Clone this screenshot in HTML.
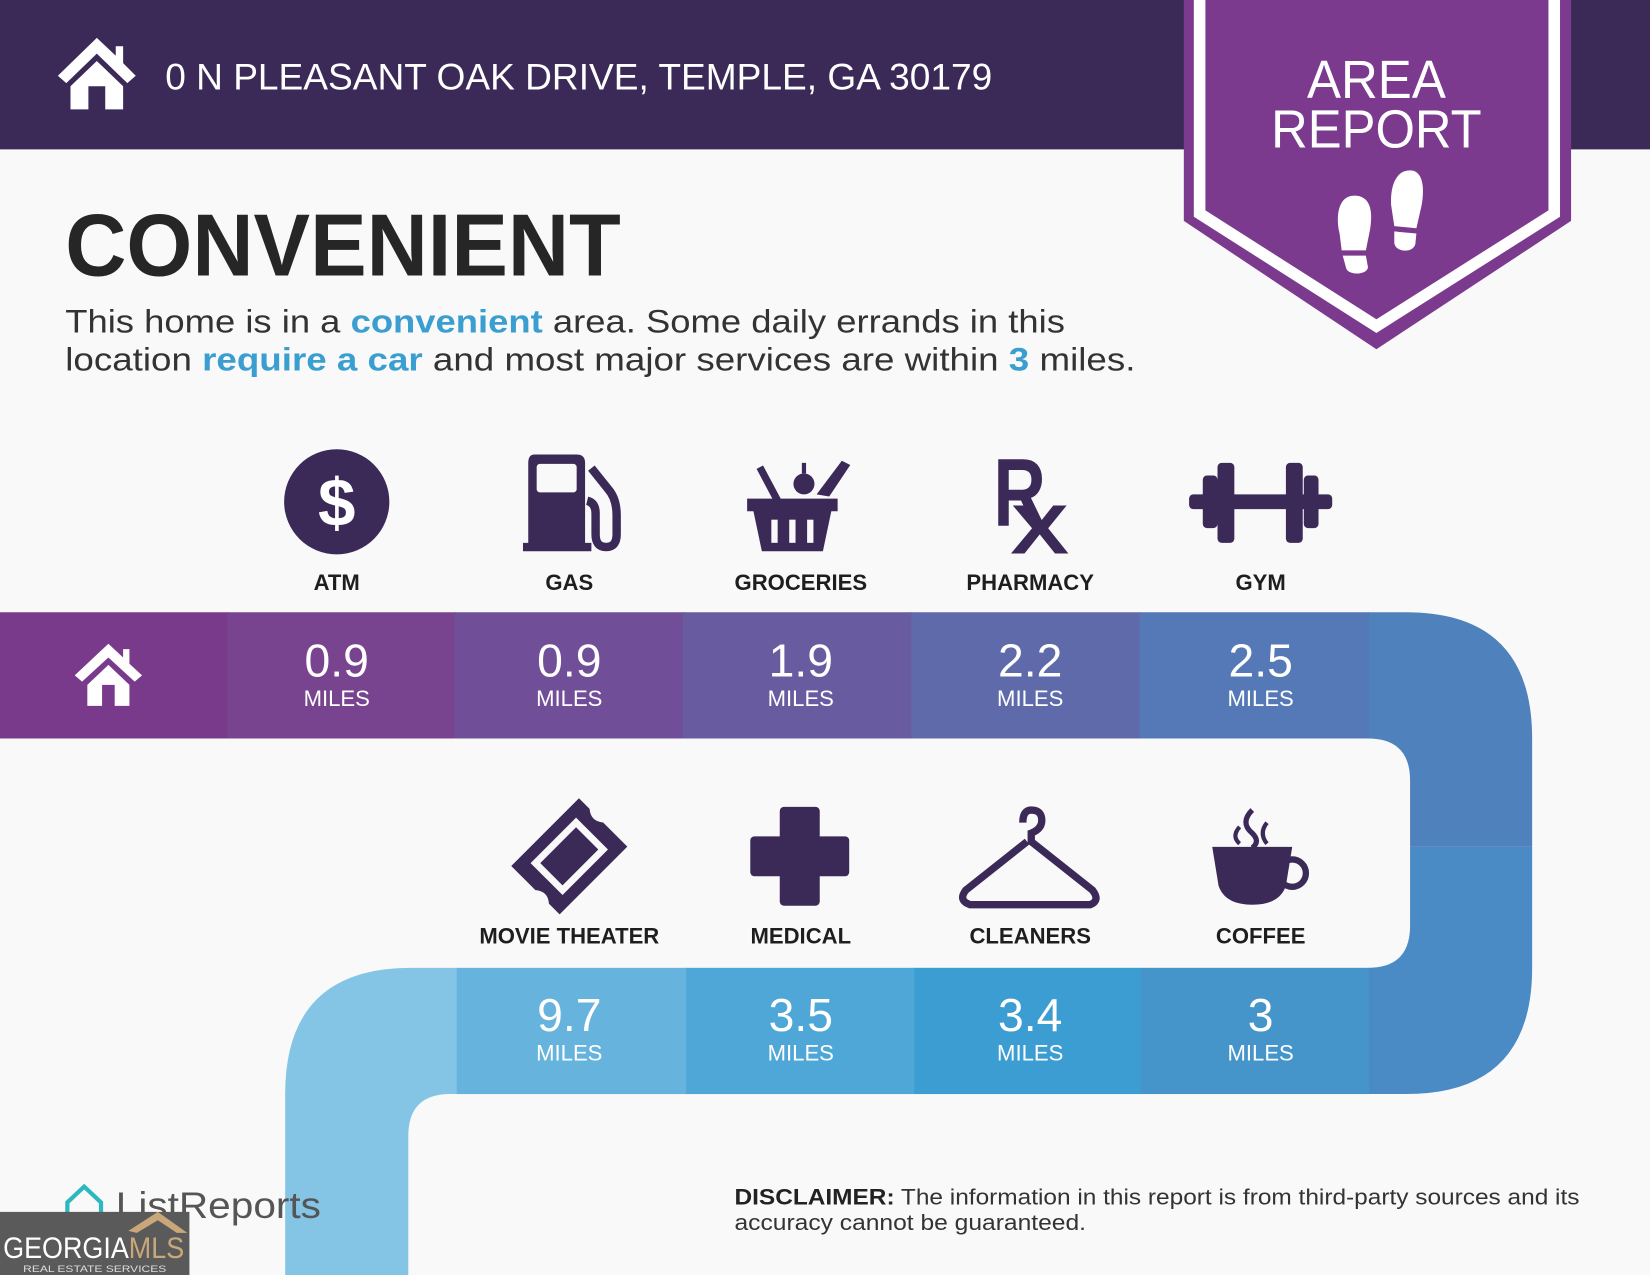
<!DOCTYPE html>
<html><head><meta charset="utf-8"><style>
html,body{margin:0;padding:0;background:#f9f9f9;}
svg{display:block;font-family:"Liberation Sans",sans-serif;}
</style></head><body>
<svg width="1650" height="1275" viewBox="0 0 1568 1212" preserveAspectRatio="none" xmlns="http://www.w3.org/2000/svg">
<rect width="1568" height="1212" fill="#f9f9f9"/>
<!-- header -->
<rect x="0" y="0" width="1568" height="142" fill="#3b2a58"/>
<g fill="#fff">
  <polygon points="92,36 55,72 63,79 92,51 121,79 129,72 117,60 117,44 110,44 110,53"/>
  <polygon points="92,58 67,82 67,104 84,104 84,82 100,82 100,104 117,104 117,82"/>
</g>
<text x="157" y="85" font-size="35" fill="#fff" textLength="786" lengthAdjust="spacingAndGlyphs">0 N PLEASANT OAK DRIVE, TEMPLE, GA 30179</text>
<!-- banner -->
<polygon points="1125,0 1493,0 1493,210 1308,332 1125,210" fill="#7b3a8e"/>
<polyline points="1140,0 1140,203 1308,310 1477,203 1477,0" fill="none" stroke="#fff" stroke-width="11"/>
<text x="1308" y="93" font-size="51" fill="#fff" text-anchor="middle" textLength="132" lengthAdjust="spacingAndGlyphs">AREA</text>
<text x="1308" y="140" font-size="51" fill="#fff" text-anchor="middle" textLength="200" lengthAdjust="spacingAndGlyphs">REPORT</text>
<g fill="#fff">
  <path d="M1287,186 C1272,186 1269,205 1273,222 L1275,238 L1298,238 L1302,218 C1305,200 1302,186 1287,186Z"/>
  <path d="M1276,243 L1298,243 L1300,254 C1299,262 1280,262 1279,254Z"/>
  <path d="M1340,162 C1325,162 1321,180 1322,195 L1325,215 L1346,217 L1351,195 C1354,178 1352,162 1340,162Z"/>
  <path d="M1325,220 L1346,222 L1345,232 C1343,241 1326,240 1325,231Z"/>
</g>
<!-- title -->
<text x="62" y="262" font-size="84" font-weight="bold" fill="#262626" textLength="528" lengthAdjust="spacingAndGlyphs">CONVENIENT</text>
<text x="62" y="316" font-size="31" fill="#333" textLength="950" lengthAdjust="spacingAndGlyphs">This home is in a <tspan fill="#3a9fd0" font-weight="bold">convenient</tspan> area. Some daily errands in this</text>
<text x="62" y="352" font-size="31" fill="#333" textLength="1017" lengthAdjust="spacingAndGlyphs">location <tspan fill="#3a9fd0" font-weight="bold">require a car</tspan> and most major services are within <tspan fill="#3a9fd0" font-weight="bold">3</tspan> miles.</text>

<!-- icons row 1 -->
<g fill="#3b2a58">
  <circle cx="320" cy="477" r="50"/>
  <text x="320" y="500" font-size="64" font-weight="bold" fill="#fff" text-anchor="middle">$</text>
  <!-- gas -->
  <path d="M508,432 L548,432 Q556,432 556,440 L556,516 L562,516 L562,524 L497,524 L497,516 L502,516 L502,440 Q502,432 508,432Z"/>
  <rect x="510" y="441" width="38" height="27" rx="3" fill="#f9f9f9"/>
  <path d="M562,445 L578,465 Q586,474 586,490 L586,508 Q586,520 576,520 Q566,520 566,508 L566,488 Q566,478 558,476" fill="none" stroke="#3b2a58" stroke-width="8"/>
  <!-- groceries -->
  <path d="M710,474 L796,474 L796,486 L790,486 L782,524 L724,524 L716,486 L710,486Z"/>
  <g fill="#f9f9f9"><rect x="733" y="494" width="6" height="22"/><rect x="750" y="494" width="6" height="22"/><rect x="767" y="494" width="6" height="22"/></g>
  <rect x="728" y="442" width="7" height="40" transform="rotate(-28 731 462)"/>
  <circle cx="764" cy="460" r="10"/><rect x="762" y="440" width="4" height="10"/>
  <path d="M776,470 L800,438 L808,442 L788,472Z"/>
  <!-- pharmacy -->
  <text x="944" y="500" font-size="92" font-weight="bold" textLength="50" lengthAdjust="spacingAndGlyphs">R</text>
  <text x="960" y="526" font-size="66" font-weight="bold" textLength="56" lengthAdjust="spacingAndGlyphs">X</text>
  <!-- gym -->
  <rect x="1130" y="470" width="136" height="14" rx="4"/>
  <rect x="1143" y="452" width="14" height="50" rx="4"/>
  <rect x="1157" y="440" width="16" height="76" rx="4"/>
  <rect x="1239" y="452" width="14" height="50" rx="4"/>
  <rect x="1222" y="440" width="16" height="76" rx="4"/>
</g>
<g font-size="21" font-weight="bold" fill="#1e1e1e" text-anchor="middle">
  <text x="320" y="561">ATM</text><text x="541" y="561">GAS</text><text x="761" y="561">GROCERIES</text><text x="979" y="561">PHARMACY</text><text x="1198" y="561">GYM</text>
</g>

<!-- path: right curve -->
<path d="M1300,582 L1336,582 Q1456,582 1456,702 L1456,805 L1340,805 L1340,742 Q1340,702 1300,702Z" fill="#4f82bc"/>
<path d="M1340,805 L1456,805 L1456,920 Q1456,1040 1336,1040 L1300,1040 L1300,920 L1300,920 Q1340,920 1340,880Z" fill="#4a8bc6"/>
<!-- row 1 segments -->
<rect x="0" y="582" width="217" height="120" fill="#7a3a8c"/>
<rect x="216" y="582" width="217" height="120" fill="#784490"/>
<rect x="432" y="582" width="218" height="120" fill="#714e98"/>
<rect x="649" y="582" width="218" height="120" fill="#685ba0"/>
<rect x="866" y="582" width="218" height="120" fill="#5f6aaa"/>
<rect x="1083" y="582" width="218" height="120" fill="#5579b6"/>
<!-- left curve -->
<path d="M435,920 L391,920 Q271,920 271,1040 L271,1212 L388,1212 L388,1080 Q388,1040 428,1040 L435,1040Z" fill="#84c5e6"/>
<rect x="434" y="920" width="219" height="120" fill="#66b4de"/>
<rect x="652" y="920" width="218" height="120" fill="#4fa7d7"/>
<rect x="869" y="920" width="216" height="120" fill="#3b9dd2"/>
<rect x="1084" y="920" width="217" height="120" fill="#4595ca"/>
<!-- home in row -->
<g fill="#fff">
  <polygon points="103,612 71,642 78,648 103,625 128,648 135,642 123,631 123,617 117,617 117,625"/>
  <polygon points="103,632 83,651 83,671 97,671 97,651 109,651 109,671 123,671 123,651"/>
</g>
<g fill="#fff" text-anchor="middle" stroke="none">
  <g font-size="44"><text x="320" y="643">0.9</text><text x="541" y="643">0.9</text><text x="761" y="643">1.9</text><text x="979" y="643">2.2</text><text x="1198" y="643">2.5</text>
  <text x="541" y="980">9.7</text><text x="761" y="980">3.5</text><text x="979" y="980">3.4</text><text x="1198" y="980">3</text></g>
  <g font-size="21"><text x="320" y="671">MILES</text><text x="541" y="671">MILES</text><text x="761" y="671">MILES</text><text x="979" y="671">MILES</text><text x="1198" y="671">MILES</text>
  <text x="541" y="1008">MILES</text><text x="761" y="1008">MILES</text><text x="979" y="1008">MILES</text><text x="1198" y="1008">MILES</text></g>
</g>

<!-- icons row 2 -->
<g fill="#3b2a58">
  <g transform="translate(541 814) scale(1.3) rotate(-45) translate(-541 -814)">
    <path d="M506,789 L576,789 L576,800 Q570,807 576,814 L576,839 L506,839 L506,828 Q512,821 506,814Z"/>
    <rect x="520" y="800" width="42" height="28" fill="none" stroke="#f9f9f9" stroke-width="5"/>
  </g>
  <rect x="741" y="767" width="38" height="94" rx="4"/>
  <rect x="713" y="795" width="94" height="38" rx="4"/>
  <path d="M972,782 Q972,770 980,770 Q990,770 990,780 Q990,788 980,792 L980,800 L1038,846 Q1046,856 1036,860 L922,860 Q910,856 918,846 L976,800" fill="none" stroke="#3b2a58" stroke-width="7"/>
  <path d="M1152,805 L1228,805 L1222,842 Q1216,860 1190,860 Q1164,860 1158,842Z"/>
  <circle cx="1228" cy="830" r="13" fill="none" stroke="#3b2a58" stroke-width="6"/>
  <path d="M1190,770 Q1178,782 1190,792 Q1198,800 1190,806" fill="none" stroke="#3b2a58" stroke-width="5"/>
  <path d="M1178,786 Q1170,795 1178,802" fill="none" stroke="#3b2a58" stroke-width="4"/>
  <path d="M1204,782 Q1196,792 1204,802" fill="none" stroke="#3b2a58" stroke-width="4"/>
</g>
<g font-size="21" font-weight="bold" fill="#1e1e1e" text-anchor="middle">
  <text x="541" y="897">MOVIE THEATER</text><text x="761" y="897">MEDICAL</text><text x="979" y="897">CLEANERS</text><text x="1198" y="897">COFFEE</text>
</g>

<!-- footer -->
<path d="M80,1128 L96,1143 L96,1162 L64,1162 L64,1143Z" fill="none" stroke="#2bb8c0" stroke-width="4"/>
<text x="110" y="1158" font-size="35" fill="#555" textLength="195" lengthAdjust="spacingAndGlyphs">ListReports</text>
<rect x="0" y="1152" width="180" height="60" fill="#5a5a5a"/>
<path d="M122,1170 L150,1152 L178,1172 L168,1172 L150,1160 L130,1172Z" fill="#c9a77a"/>
<text x="3" y="1196" font-size="28" fill="#fff" textLength="172" lengthAdjust="spacingAndGlyphs">GEORGIA<tspan fill="#c9a77a">MLS</tspan></text>
<text x="22" y="1209" font-size="9" fill="#ddd" textLength="136" lengthAdjust="spacingAndGlyphs">REAL ESTATE SERVICES</text>
<text x="698" y="1145" font-size="21" fill="#333" textLength="803" lengthAdjust="spacingAndGlyphs"><tspan font-weight="bold" fill="#222">DISCLAIMER:</tspan> The information in this report is from third-party sources and its</text>
<text x="698" y="1169" font-size="21" fill="#333" textLength="334" lengthAdjust="spacingAndGlyphs">accuracy cannot be guaranteed.</text>
</svg>
</body></html>
